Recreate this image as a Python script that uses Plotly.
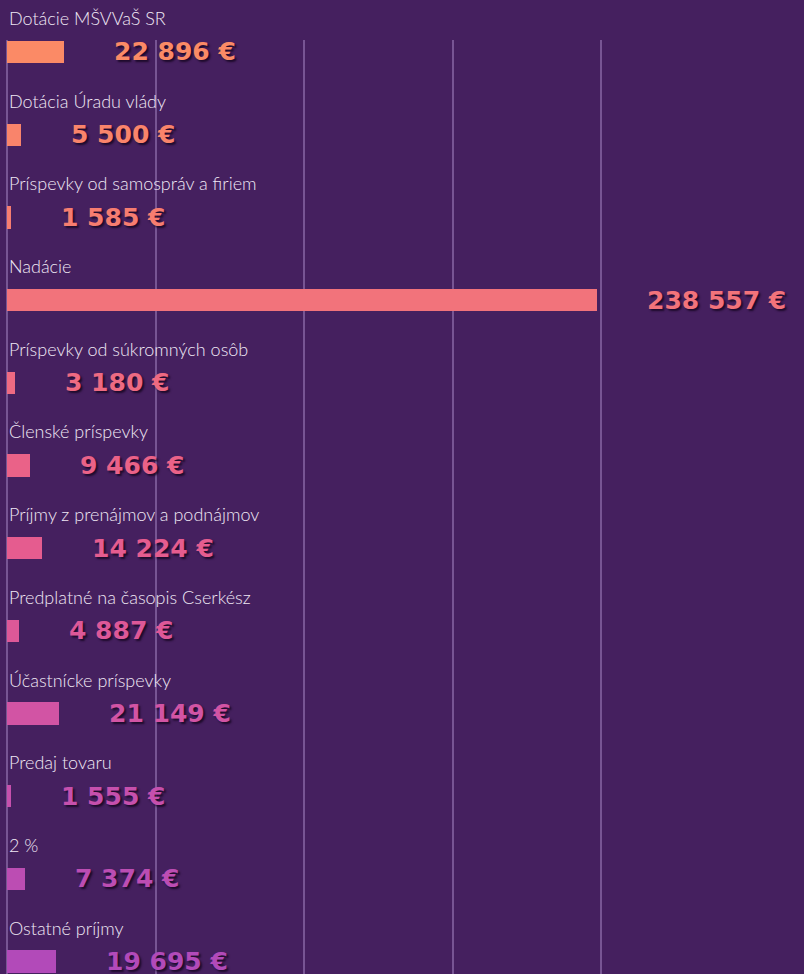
import plotly.graph_objects as go

categories = [
    "Dotácie MŠVVaŠ SR",
    "Dotácia Úradu vlády",
    "Príspevky od samospráv a firiem",
    "Nadácie",
    "Príspevky od súkromných osôb",
    "Členské príspevky",
    "Príjmy z prenájmov a podnájmov",
    "Predplatné na časopis Cserkész",
    "Účastnícke príspevky",
    "Predaj tovaru",
    "2 %",
    "Ostatné príjmy",
]
values = [22896, 5500, 1585, 238557, 3180, 9466, 14224, 4887, 21149, 1555, 7374, 19695]
value_labels = ["22 896 €", "5 500 €", "1 585 €", "238 557 €", "3 180 €", "9 466 €",
                "14 224 €", "4 887 €", "21 149 €", "1 555 €", "7 374 €", "19 695 €"]
colors = ["#fb8a66", "#f9846b", "#f67d70", "#f2737b", "#ee6a82", "#ea6288",
          "#e55c8f", "#dd5898", "#d254a4", "#c650ad", "#bc4db3", "#b24ab9"]

BG = "#45205f"
ypos = list(range(len(categories)))

fig = go.Figure()
fig.add_trace(go.Bar(
    x=values, y=ypos, orientation="h",
    marker=dict(color=colors, line=dict(width=0)),
    width=0.27, hoverinfo="skip",
))

ann = []
for i, (c, v, t, col) in enumerate(zip(categories, values, value_labels, colors)):
    ann.append(dict(x=0, y=i, xref="x", yref="y", text=c, showarrow=False,
                    xanchor="left", yanchor="middle", xshift=0, yshift=34,
                    font=dict(family="Lato", size=18, color="#f0e8f5", weight=300)))
    ann.append(dict(x=v, y=i, xref="x", yref="y", text=t, showarrow=False,
                    xanchor="left", yanchor="middle", xshift=48, yshift=0,
                    font=dict(family="DejaVu Sans", size=25, color=col, weight="bold",
                              shadow="2px 2px 2px rgba(20,5,30,0.8)")))

fig.update_layout(
    width=804, height=974,
    margin=dict(l=7, r=0, t=40, b=0),
    paper_bgcolor=BG, plot_bgcolor=BG,
    showlegend=False,
    annotations=ann,
    xaxis=dict(range=[0, 797 / 148.5 * 60000], tickvals=[0, 60000, 120000, 180000, 240000],
               showticklabels=False, showgrid=True, gridcolor="rgba(160,130,190,0.55)",
               gridwidth=1.5, zeroline=True, zerolinecolor="rgba(160,130,190,0.55)",
               zerolinewidth=1.5, showline=False, fixedrange=True),
    yaxis=dict(range=[11.15, -0.145], showticklabels=False, showgrid=False,
               zeroline=False, showline=False, fixedrange=True),
    bargap=0,
)

fig.write_html("out.html")
